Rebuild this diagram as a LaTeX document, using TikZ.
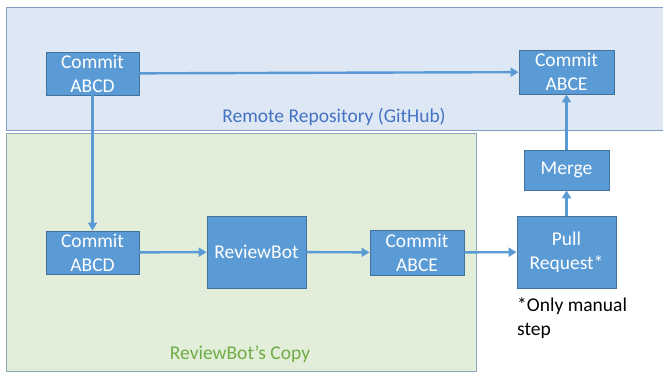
\documentclass[tikz,border=0pt]{standalone}
\usepackage{fontspec}
\setmainfont{Carlito}
\usetikzlibrary{arrows.meta}
\definecolor{boxfill}{HTML}{5B9BD5}
\definecolor{boxline}{HTML}{41719C}
\definecolor{remotefill}{HTML}{DEE8F4}
\definecolor{remoteline}{HTML}{7E9CC4}
\definecolor{copyfill}{HTML}{E2EED9}
\definecolor{copyline}{HTML}{8FA8BE}
\definecolor{remotetext}{HTML}{4472C4}
\definecolor{copytext}{HTML}{70AD47}
\tikzset{
  stepbox/.style={draw=boxline, line width=0.8pt, fill=boxfill, text=white,
    inner sep=0pt, align=center, font=\fontsize{19.5}{24}\selectfont},
  flow/.style={draw=boxfill, line width=2.4pt, -{Triangle[length=8pt,width=9pt]}},
  arealabel/.style={font=\fontsize{19.5}{24}\selectfont}
}
\begin{document}
\begin{tikzpicture}[x=1pt,y=-1pt]
\useasboundingbox (0,0) rectangle (663,372);
% remote repository and local copy areas
\draw[fill=remotefill, draw=remoteline, line width=1pt] (6,7) rectangle (680,130);
\draw[fill=copyfill, draw=copyline, line width=1pt] (6,133) rectangle (476,371);
\node[arealabel, text=remotetext, anchor=base] (remotelbl) at (334,122) {Remote Repository (GitHub)};
\node[arealabel, text=copytext, anchor=base] (copylbl) at (240,359) {ReviewBot’s Copy};
% steps
\node[stepbox, minimum width=93pt, minimum height=43pt] (topA) at (92.5,73.5) {Commit\\ABCD};
\node[stepbox, minimum width=95pt, minimum height=44pt] (topE) at (566.5,72) {Commit\\ABCE};
\node[stepbox, minimum width=93pt, minimum height=43pt] (lowA) at (92.5,252.5) {Commit\\ABCD};
\node[stepbox, minimum width=99pt, minimum height=72pt] (rb) at (256.5,252) {ReviewBot};
\node[stepbox, minimum width=94pt, minimum height=45pt] (lowE) at (417,252.5) {Commit\\ABCE};
\node[stepbox, minimum width=99pt, minimum height=72pt] (pr) at (566.5,252) {Pull\\Request*};
\node[stepbox, minimum width=85pt, minimum height=40pt] (merge) at (566.5,170) {Merge};
\node[arealabel, anchor=north west, align=left, inner sep=0pt] (note) at (517,297) {*Only manual\\step};
% connectors
\draw[flow] (topA) -- (topE);
\draw[flow] (topA) -- (lowA);
\draw[flow] (lowA) -- (rb);
\draw[flow] (rb) -- (lowE);
\draw[flow] (lowE) -- (pr);
\draw[flow] (pr) -- (merge);
\draw[flow] (merge) -- (topE);
\end{tikzpicture}
\end{document}
